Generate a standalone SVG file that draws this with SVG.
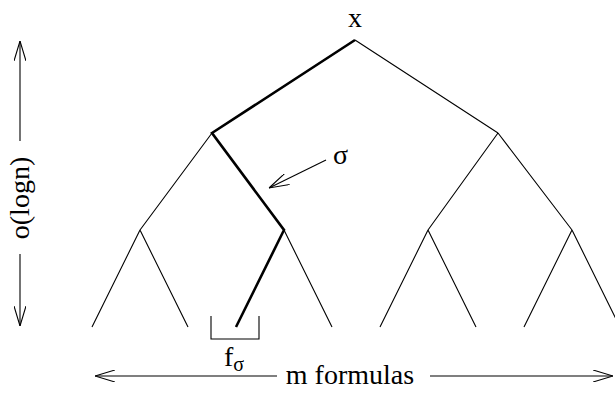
<svg xmlns="http://www.w3.org/2000/svg" width="615" height="409" viewBox="0 0 615 409">
<style>
.t{font-family:"Liberation Serif",serif;font-size:28px;fill:#000}
.thin{stroke:#000;stroke-width:1.1;fill:none}
.thick{stroke:#000;stroke-width:2.6;fill:none}
</style>
<defs>
<marker id="ah" viewBox="0 0 20 12" refX="20" refY="6" markerWidth="20" markerHeight="12" markerUnits="userSpaceOnUse" orient="auto">
<path d="M0,0 L20,6 L0,12" fill="none" stroke="#000" stroke-width="1.1"/>
</marker>
</defs>
<g id="connectors">
<path class="thin" d="M355,40 L498,133 M498,133 L428,230 M498,133 L572,230"/>
<path class="thin" d="M212,133 L140,230 M140,230 L92,327 M140,230 L188,327 M284,230 L332,327"/>
<path class="thin" d="M428,230 L380,327 M428,230 L476,327 M572,230 L524,327 M572,230 L620,327"/>
<path class="thick" d="M355,40 L212,133 L284,230 L236,327"/>
<path class="thin" d="M211,316 L211,339 L259,339 L259,316"/>
<line class="thin" x1="326" y1="160" x2="269" y2="188" marker-end="url(#ah)"/>
<line class="thin" x1="20" y1="141" x2="20" y2="41" marker-end="url(#ah)"/>
<line class="thin" x1="20" y1="254" x2="20" y2="326" marker-end="url(#ah)"/>
<line class="thin" x1="277" y1="376" x2="95" y2="376" marker-end="url(#ah)"/>
<line class="thin" x1="430" y1="376" x2="613" y2="376" marker-end="url(#ah)"/>
</g>
<g id="root"><text class="t" x="355" y="27" text-anchor="middle">x</text></g>
<g id="sigma"><text class="t" x="333" y="164">σ</text></g>
<g id="fsigma"><text class="t" x="224" y="366">f<tspan font-size="20" dy="5">σ</tspan></text></g>
<g id="height"><text class="t" font-size="30" transform="translate(29,198) rotate(-90)" text-anchor="middle">o(logn)</text></g>
<g id="width"><text class="t" x="350" y="384" text-anchor="middle">m formulas</text></g>
</svg>
